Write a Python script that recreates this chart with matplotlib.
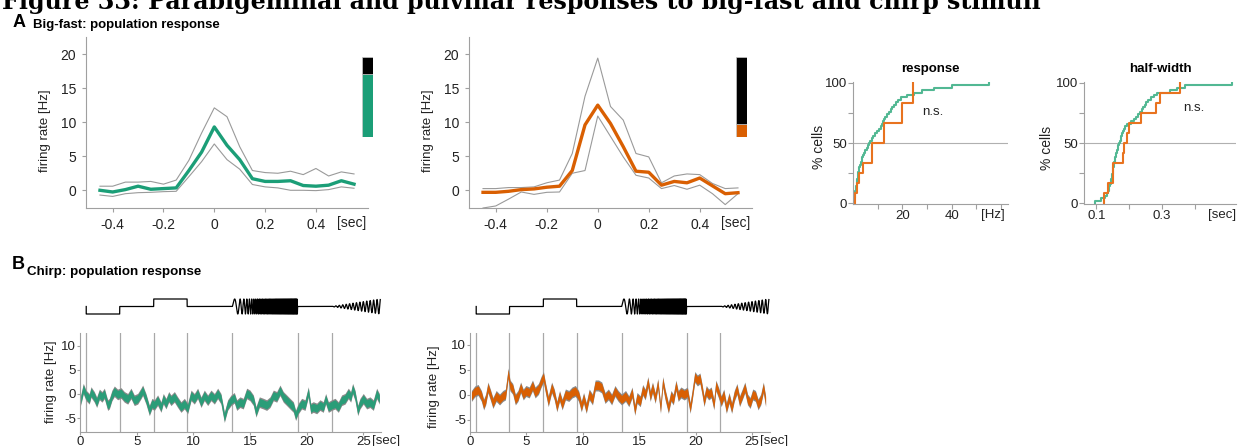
import numpy as np
import matplotlib.pyplot as plt

plt.rcParams['font.family'] = ['Liberation Sans', 'DejaVu Sans']
plt.rcParams['axes.unicode_minus'] = False

green = '#1b9e77'
orange = '#d95f02'
cdf_green = '#52b893'
cdf_orange = '#e8731f'
grey = '#9a9a9a'
W, H = 1241, 446

# ---- A: big-fast PSTH (bin centres, sec) ----
psth_t = [-0.45, -0.40, -0.35, -0.30, -0.25, -0.20, -0.15, -0.10, -0.05, 0.00,
          0.05, 0.10, 0.15, 0.20, 0.25, 0.30, 0.35, 0.40, 0.45, 0.50, 0.55]
pbg_mean = [0.0, -0.25, 0.1, 0.6, 0.15, 0.25, 0.35, 2.9, 5.6, 9.3,
            6.6, 4.5, 1.7, 1.3, 1.3, 1.4, 0.7, 0.6, 0.75, 1.4, 0.9]
pbg_upper = [0.6, 0.6, 1.2, 1.2, 1.3, 0.9, 1.5, 4.4, 8.4, 12.1,
             10.8, 6.4, 2.9, 2.6, 2.5, 2.8, 2.3, 3.2, 2.1, 2.7, 2.4]
pbg_lower = [-0.7, -0.9, -0.5, -0.35, -0.3, -0.2, -0.15, 2.0, 4.2, 6.8,
             4.5, 3.1, 0.85, 0.5, 0.35, 0.0, 0.0, -0.05, 0.1, 0.5, 0.3]
pul_mean = [-0.3, -0.3, -0.15, 0.1, 0.2, 0.45, 0.6, 2.9, 9.6, 12.5,
            9.8, 6.4, 2.8, 2.65, 0.75, 1.3, 1.1, 1.8, 0.65, -0.5, -0.35]
pul_upper = [0.25, 0.25, 0.4, 0.4, 0.5, 1.1, 1.5, 5.4, 13.8, 19.4,
             12.3, 10.3, 5.4, 4.9, 1.1, 2.1, 2.4, 2.3, 1.0, 0.25, 0.35]
pul_lower = [-2.6, -2.3, -1.3, -0.25, -0.6, -0.3, -0.25, 2.5, 2.9, 10.9,
             7.9, 4.9, 2.2, 1.8, 0.25, 0.7, 0.15, 0.75, -0.5, -2.1, -0.5]
pbg_responsive = 0.79
pul_responsive = 0.16

# ---- A: per-cell response amplitude [Hz] and half-width [sec] ----
pbg_response_hz = [0.3, 0.5, 0.7, 0.9, 1.0, 1.1, 1.3, 1.5, 1.6, 1.8,
                   1.9, 2.1, 2.2, 2.4, 2.6, 2.9, 3.2, 3.5, 3.8, 4.1,
                   4.5, 5.0, 5.5, 6.0, 6.5, 7.0, 7.6, 8.3, 9.0, 9.9,
                   10.6, 11.3, 11.9, 12.3, 12.7, 13.1, 13.6, 14.5, 15.3, 15.9,
                   16.6, 17.3, 18.2, 19.3, 22.0, 24.7, 28.0, 33.0, 40.0, 55.0]
pul_response_hz = [0.8, 1.5, 2.4, 4.1, 7.6, 7.6, 12.6, 12.6, 19.7, 19.7, 24.3, 24.3]
pbg_halfwidth_s = [0.097, 0.115, 0.125, 0.131, 0.135, 0.137, 0.139, 0.141, 0.143, 0.145,
                   0.147, 0.148, 0.150, 0.151, 0.152, 0.154, 0.155, 0.157, 0.158, 0.160,
                   0.161, 0.163, 0.165, 0.167, 0.170, 0.172, 0.174, 0.176, 0.178, 0.180,
                   0.184, 0.188, 0.193, 0.205, 0.215, 0.222, 0.227, 0.232, 0.238, 0.243,
                   0.247, 0.251, 0.256, 0.266, 0.277, 0.285, 0.325, 0.345, 0.370, 0.515]
pul_halfwidth_s = [0.1235, 0.1357, 0.149, 0.149, 0.180, 0.184,
                   0.194, 0.200, 0.236, 0.282, 0.294, 0.355]

# ---- B: chirp stimulus phases [sec] and population responses ----
chirp_lines = [0.55, 3.5, 6.5, 9.45, 13.45, 19.2, 22.2]
chirp_end = 26.5
step_levels = [-1, 0, 1, 0]          # levels between the first five lines
freq_chirp_hz = (1.0, 15.0)
amp_chirp_hz = 3.3

pbg_chirp_t = [0.06, 0.29, 0.53, 0.82, 0.97, 1.26, 1.47, 1.71, 1.94, 2.15,
               2.44, 2.59, 2.82, 3.03, 3.32, 3.62, 3.91, 4.21, 4.50, 4.79,
               5.09, 5.38, 5.53, 5.82, 6.12, 6.35, 6.56, 6.85, 7.15, 7.35,
               7.59, 7.83, 8.03, 8.33, 8.62, 8.91, 9.21, 9.50, 9.80, 10.09,
               10.38, 10.68, 10.97, 11.27, 11.56, 11.86, 12.15, 12.44, 12.74, 13.03,
               13.33, 13.62, 13.83, 14.12, 14.41, 14.71, 15.00, 15.30, 15.53, 15.83,
               16.18, 16.47, 16.77, 17.06, 17.36, 17.65, 17.94, 18.24, 18.53, 18.83,
               19.03, 19.27, 19.56, 19.86, 20.15, 20.36, 20.59, 20.89, 21.18, 21.47,
               21.68, 21.92, 22.21, 22.51, 22.80, 23.09, 23.39, 23.68, 23.89, 24.06,
               24.27, 24.51, 24.71, 25.00, 25.30, 25.59, 25.89, 26.18, 26.42]
pbg_chirp_rate = [-1.3, 1.1, -0.3, -1.0, 0.4, -0.6, -1.7, -0.1, -0.6, 0.1,
                  -2.3, -2.0, -0.3, 0.55, -0.1, 0.2, -0.6, -1.0, 0.1, -1.3,
                  -1.0, 0.1, 0.75, -1.0, -3.4, -2.0, -2.3, -1.3, -2.7, -1.0,
                  -2.0, -0.6, -1.3, -0.6, -1.7, -2.7, -2.0, -3.0, -0.3, -1.0,
                  0.1, -1.7, -0.3, -1.3, -0.3, -1.0, 0.1, -1.0, -4.8, -2.3,
                  -1.3, -0.8, -2.3, -1.7, -2.0, 0.1, -0.3, -1.3, -3.7, -1.7,
                  -2.0, -2.3, -1.7, -0.3, -0.6, 0.75, -0.6, -1.3, -2.0, -2.7,
                  -4.4, -3.0, -2.0, -2.3, 0.4, -3.0, -2.7, -3.0, -2.3, -2.7,
                  -1.0, -2.7, -2.3, -2.0, -2.7, -1.3, -1.0, 0.1, -0.6, 1.1,
                  -0.3, -3.4, -2.0, -1.0, -2.0, -1.7, -2.3, 0.1, -1.0]
pul_chirp_t = [0.13, 0.42, 0.72, 1.01, 1.21, 1.39, 1.59, 1.80, 2.03, 2.32,
               2.62, 2.91, 3.14, 3.38, 3.55, 3.79, 4.02, 4.25, 4.49, 4.72,
               4.96, 5.25, 5.54, 5.77, 6.07, 6.30, 6.51, 6.71, 6.94, 7.24,
               7.47, 7.70, 7.94, 8.17, 8.46, 8.76, 9.05, 9.34, 9.63, 9.87,
               10.07, 10.31, 10.57, 10.86, 11.10, 11.39, 11.68, 11.97, 12.27, 12.56,
               12.85, 13.14, 13.44, 13.79, 14.08, 14.37, 14.61, 14.81, 15.10, 15.31,
               15.54, 15.77, 15.98, 16.18, 16.42, 16.65, 16.89, 17.09, 17.30, 17.59,
               17.82, 18.03, 18.26, 18.46, 18.70, 18.99, 19.28, 19.52, 19.69, 19.93,
               20.16, 20.39, 20.57, 20.75, 20.95, 21.16, 21.39, 21.62, 21.80, 22.03,
               22.27, 22.50, 22.73, 22.97, 23.20, 23.43, 23.67, 23.90, 24.14, 24.37,
               24.61, 24.84, 25.07, 25.31, 25.54, 25.78, 26.01, 26.21]
pul_chirp_rate = [-0.2, 0.7, 1.0, -0.2, -1.9, -0.9, 1.5, 0.1, -1.6, -0.2,
                  -0.9, -0.2, 0.1, 4.3, 1.9, 1.2, -0.9, -0.2, 1.5, 0.1,
                  0.8, 0.5, 1.9, 0.5, 1.2, 2.6, 3.6, 1.2, -1.25, 1.5,
                  0.1, -2.3, -0.2, -1.9, 0.1, -0.2, 0.5, 0.8, -0.2, -2.3,
                  -0.6, -2.6, 0.1, -0.9, 1.9, 1.9, 1.5, -0.6, 0.1, -0.9,
                  0.8, -0.2, -0.9, -0.2, -1.25, 0.5, -3.0, -0.6, -1.25, 1.0,
                  0.1, 2.6, -0.2, 1.5, -0.6, 2.2, -2.6, 2.6, 0.1, -2.6,
                  -0.2, -0.9, 1.9, -0.2, 0.5, 0.1, 0.5, -2.6, -0.2, 3.6,
                  2.9, 3.3, 1.2, -1.25, 0.8, 0.1, 0.5, -1.9, 1.9, 0.5,
                  -1.25, 0.1, -2.6, -0.6, -2.6, -0.2, 1.2, -1.25, 0.1, 1.5,
                  -0.9, -1.6, 0.1, -0.2, -1.9, -0.9, 1.5, -1.25]
chirp_sem = 0.8

fig = plt.figure(figsize=(W / 100, H / 100), dpi=100)


def rect(x0, y0, x1, y1):
    # pixel box (top-left origin) -> figure fraction
    return [x0 / W, 1 - y1 / H, (x1 - x0) / W, (y1 - y0) / H]


def style(ax, size, length=3, pad=3):
    for s in ['top', 'right']:
        ax.spines[s].set_visible(False)
    for s in ['left', 'bottom']:
        ax.spines[s].set_color('#a0a0a0')
        ax.spines[s].set_linewidth(0.8)
    ax.tick_params(colors='#a0a0a0', labelcolor='#222222', labelsize=size,
                   length=length, width=0.8, pad=pad)


def unit_label(ax, x, text, size, offset):
    ax.annotate(text, xy=(x, 0), xycoords=('data', 'axes fraction'),
                xytext=(0, -offset), textcoords='offset points',
                ha='center', va='top', fontsize=size, color='#222222',
                annotation_clip=False)


# title (clipped by the page edge in the original)
title = fig.text(2 / W, 1 - 9 / H,
                 'Figure 33: Parabigeminal and pulvinar responses to big-fast and chirp stimuli',
                 fontsize=18, fontweight='bold', family='DejaVu Serif', va='baseline')
fig.canvas.draw()
title.set_fontsize(18 * 1042 / title.get_window_extent().width)

fig.text(13 / W, 1 - 27 / H, 'A', fontsize=13, fontweight='bold', va='baseline')
fig.text(33 / W, 1 - 28 / H, 'Big-fast: population response', fontsize=9.5,
         fontweight='bold', va='baseline')
fig.text(12 / W, 1 - 269 / H, 'B', fontsize=13, fontweight='bold', va='baseline')
fig.text(27 / W, 1 - 275 / H, 'Chirp: population response', fontsize=9.6,
         fontweight='bold', va='baseline')

# ---- A: PSTHs ----
for box, bar_x, mean, upper, lower, col, frac in [
        ((86, 37, 368, 208), 362, pbg_mean, pbg_upper, pbg_lower, green, pbg_responsive),
        ((469, 37, 752, 208), 736, pul_mean, pul_upper, pul_lower, orange, pul_responsive)]:
    ax = fig.add_axes(rect(*box))
    ax.plot(psth_t, upper, color=grey, lw=0.8)
    ax.plot(psth_t, lower, color=grey, lw=0.8)
    ax.plot(psth_t, mean, color=col, lw=2.4)
    ax.set_xlim(-0.505, 0.605)
    ax.set_ylim(-2.6, 22.5)
    ax.set_xticks([-0.4, -0.2, 0, 0.2, 0.4])
    ax.set_xticklabels(['-0.4', '-0.2', '0', '0.2', '0.4'])
    ax.set_yticks([0, 5, 10, 15, 20])
    style(ax, 10, length=3, pad=4)
    ax.set_ylabel('firing rate [Hz]', fontsize=9.5, color='#222222')
    ax.yaxis.set_label_coords(-0.125, 0.45)
    unit_label(ax, 0.54, '[sec]', 10, 5.5)

    bx = fig.add_axes(rect(bar_x, 57, bar_x + 11, 137))
    bx.bar([0], [frac], width=1, color=col, edgecolor='#c8c8c8', lw=0.5)
    bx.bar([0], [1 - frac], bottom=[frac], width=1, color='black',
           edgecolor='#c8c8c8', lw=0.5)
    bx.set_xlim(-0.5, 0.5)
    bx.set_ylim(0, 1)
    bx.axis('off')

# ---- A: cumulative distributions ----
ax = fig.add_axes(rect(853, 82, 1008, 204))
ax.axhline(0.5, color='#b0b0b0', lw=0.8)
ax.ecdf(pbg_response_hz, color=cdf_green, lw=1.5)
ax.ecdf(pul_response_hz, color=cdf_orange, lw=1.5)
ax.set_xlim(0, 62.8)
ax.set_ylim(-0.008, 1.008)
ax.set_xticks([10, 20, 30, 40, 50, 60])
ax.set_xticklabels(['', '20', '', '40', '', ''])
ax.set_yticks([0, 0.25, 0.5, 0.75, 1])
ax.set_yticklabels(['0', '', '50', '', '100'])
style(ax, 9.5, length=3.5, pad=1)
ax.set_title('response', fontsize=9.5, fontweight='bold', pad=7)
ax.set_ylabel('% cells', fontsize=10, color='#222222')
ax.yaxis.set_label_coords(-0.174, 0.47)
ax.text(32.5, 0.76, 'n.s.', fontsize=9.5, color='#222222', ha='center', va='center')
unit_label(ax, 56.7, '[Hz]', 9.5, 3.5)

ax = fig.add_axes(rect(1084, 82, 1236, 204))
ax.axhline(0.5, color='#b0b0b0', lw=0.8)
ax.ecdf(pbg_halfwidth_s, color=cdf_green, lw=1.5)
ax.ecdf(pul_halfwidth_s, color=cdf_orange, lw=1.5)
ax.set_xlim(0.062, 0.526)
ax.set_ylim(-0.008, 1.008)
ax.set_xticks([0.1, 0.2, 0.3, 0.4])
ax.set_xticklabels(['0.1', '', '0.3', ''])
ax.set_yticks([0, 0.25, 0.5, 0.75, 1])
ax.set_yticklabels(['0', '', '50', '', '100'])
style(ax, 9.5, length=3.5, pad=1)
ax.set_title('half-width', fontsize=9.5, fontweight='bold', pad=7)
ax.set_ylabel('% cells', fontsize=10, color='#222222')
ax.yaxis.set_label_coords(-0.197, 0.46)
ax.text(0.396, 0.79, 'n.s.', fontsize=9.5, color='#222222', ha='center', va='center')
unit_label(ax, 0.483, '[sec]', 9.5, 3.5)

# ---- B: chirp stimulus trace ----
st = np.arange(chirp_lines[0], chirp_end, 0.0005)
stim = np.zeros_like(st)
for k, lev in enumerate(step_levels):
    stim[(st >= chirp_lines[k]) & (st < chirp_lines[k + 1])] = lev
f0, f1 = freq_chirp_hz
fc = (st >= chirp_lines[4]) & (st < chirp_lines[5])
tau = st[fc] - chirp_lines[4]
dur = chirp_lines[5] - chirp_lines[4]
stim[fc] = np.sin(2 * np.pi * (f0 * tau + (f1 - f0) * tau ** 2 / (2 * dur)))
ac = st >= chirp_lines[6]
tau = st[ac] - chirp_lines[6]
stim[ac] = tau / (chirp_end - chirp_lines[6]) * np.sin(2 * np.pi * amp_chirp_hz * tau)
st = np.r_[chirp_lines[0], st]
stim = np.r_[0, stim]

# ---- B: chirp responses ----
for x0, x1, ylim, t, rate, col, lab_xy in [
        (80, 381.4, (-7.8, 12.6), pbg_chirp_t, pbg_chirp_rate, '#2a9d78', (-0.076, 0.507)),
        (470, 770, (-7.35, 12.4), pul_chirp_t, pul_chirp_rate, orange, (-0.1, 0.456))]:
    sx = fig.add_axes(rect(x0, 298.25, x1, 314.75))
    sx.plot(st, stim, color='black', lw=0.9)
    sx.set_xlim(0, 26.6)
    sx.set_ylim(-1.1, 1.1)
    sx.axis('off')

    ax = fig.add_axes(rect(x0, 333, x1, 431.7))
    for x in chirp_lines:
        ax.axvline(x, color='#a8a8a8', lw=0.9, zorder=0)
    rate = np.array(rate)
    ax.fill_between(t, rate - chirp_sem - 0.3, rate + chirp_sem + 0.3,
                    color='#8a8a8a', lw=0)
    ax.fill_between(t, rate - chirp_sem, rate + chirp_sem, color=col, lw=0)
    ax.set_xlim(0, 26.6)
    ax.set_ylim(*ylim)
    ax.set_xticks([0, 5, 10, 15, 20, 25])
    ax.set_yticks([-5, 0, 5, 10])
    style(ax, 9.5, length=2, pad=1)
    ax.set_ylabel('firing rate [Hz]', fontsize=9.5, color='#222222')
    ax.yaxis.set_label_coords(*lab_xy)
    unit_label(ax, 27.0, '[sec]', 9.5, 2.2)

fig.savefig('out.png', dpi=100)
